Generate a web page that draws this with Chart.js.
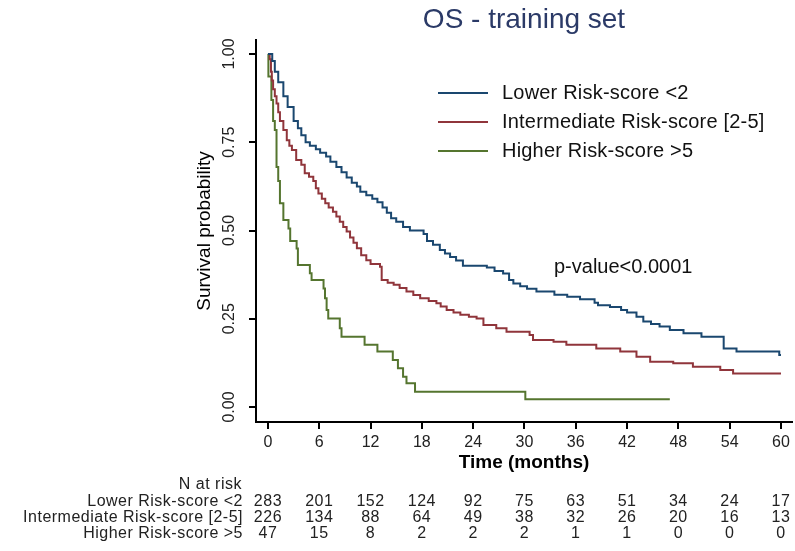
<!DOCTYPE html>
<html>
<head>
<meta charset="utf-8">
<script src="https://cdn.jsdelivr.net/npm/chart.js@4/dist/chart.umd.min.js"></script>
<style>
  html, body { margin: 0; padding: 0; background: #fff; }
  #wrap { width: 795px; height: 551px; position: relative; }
  canvas { display: block; }
</style>
</head>
<body>
<div id="wrap"><canvas id="km" width="795" height="551"></canvas></div>
<script>
// Kaplan-Meier step points: month at which survival drops, and the new survival value
const timeLower = [0, 0.5, 0.8, 1.2, 1.8, 2.3, 3.0, 3.5, 3.9, 4.4, 4.9, 5.6, 6.1, 6.8, 7.3, 8.0, 8.6, 9.2, 9.8, 10.4, 10.8, 11.5, 12.2, 12.8, 13.4, 13.9, 14.4, 15.0, 15.8, 16.6, 18.2, 18.6, 19.3, 20.1, 20.7, 21.3, 22.0, 22.8, 25.6, 26.5, 27.5, 28.2, 28.7, 29.5, 30.3, 31.4, 33.5, 35.0, 36.5, 38.2, 38.6, 40.0, 41.3, 42.0, 43.1, 43.9, 44.8, 45.8, 47.0, 48.6, 50.7, 53.3, 54.8, 59.8, 60];
const survLower = [1.0, 0.98, 0.95, 0.92, 0.88, 0.85, 0.81, 0.79, 0.77, 0.75, 0.74, 0.73, 0.72, 0.71, 0.695, 0.68, 0.665, 0.65, 0.635, 0.625, 0.61, 0.60, 0.59, 0.58, 0.565, 0.55, 0.535, 0.525, 0.51, 0.50, 0.49, 0.47, 0.46, 0.445, 0.435, 0.425, 0.415, 0.40, 0.395, 0.385, 0.378, 0.36, 0.35, 0.342, 0.335, 0.327, 0.318, 0.312, 0.305, 0.295, 0.288, 0.283, 0.275, 0.268, 0.256, 0.242, 0.235, 0.228, 0.218, 0.209, 0.199, 0.166, 0.157, 0.147, 0.147];

const timeInter = [0, 0.2, 0.35, 0.45, 0.6, 0.8, 1.0, 1.2, 1.4, 1.8, 2.2, 2.5, 2.8, 3.3, 3.9, 4.3, 4.8, 5.3, 5.6, 5.9, 6.3, 6.7, 7.1, 7.6, 8.0, 8.4, 8.8, 9.2, 9.6, 10.0, 10.4, 10.9, 11.5, 12.0, 13.1, 13.3, 14.0, 14.7, 15.4, 16.2, 17.0, 17.8, 18.8, 19.7, 20.2, 20.9, 21.7, 22.5, 23.5, 24.4, 25.2, 26.7, 27.9, 30.6, 31.0, 33.4, 34.9, 38.4, 41.2, 43.1, 44.7, 47.4, 49.7, 52.9, 54.4, 60];
const survInter = [1.0, 0.985, 0.95, 0.925, 0.90, 0.88, 0.86, 0.835, 0.81, 0.785, 0.756, 0.74, 0.728, 0.70, 0.686, 0.662, 0.652, 0.64, 0.62, 0.605, 0.59, 0.577, 0.565, 0.553, 0.54, 0.525, 0.51, 0.497, 0.48, 0.465, 0.45, 0.43, 0.416, 0.405, 0.397, 0.36, 0.352, 0.346, 0.337, 0.327, 0.317, 0.308, 0.30, 0.294, 0.285, 0.275, 0.268, 0.261, 0.256, 0.251, 0.232, 0.223, 0.213, 0.204, 0.19, 0.185, 0.176, 0.166, 0.157, 0.142, 0.128, 0.124, 0.114, 0.105, 0.095, 0.095];

const timeHigher = [0, 0.05, 0.4, 0.6, 0.8, 1.0, 1.2, 1.4, 1.8, 2.4, 2.6, 3.35, 3.5, 4.9, 5.1, 6.5, 6.67, 6.86, 7.05, 8.4, 8.6, 11.3, 12.8, 14.6, 15.2, 15.8, 16.2, 17.2, 30.1, 47.0];
const survHigher = [1.0, 0.936, 0.87, 0.81, 0.785, 0.68, 0.64, 0.577, 0.53, 0.506, 0.47, 0.449, 0.402, 0.379, 0.36, 0.336, 0.308, 0.275, 0.251, 0.223, 0.199, 0.176, 0.157, 0.133, 0.110, 0.086, 0.067, 0.043, 0.022, 0.022];

const groupLabels = ['Lower Risk-score <2', 'Intermediate Risk-score [2-5]', 'Higher Risk-score >5'];
const groupColors = ['#1a476f', '#90353b', '#55752f'];

// Axis ticks
const xTicks = [0, 6, 12, 18, 24, 30, 36, 42, 48, 54, 60];
const yTicks = [0, 0.25, 0.5, 0.75, 1];

// Number at risk at each x tick
const riskLower = [283, 201, 152, 124, 92, 75, 63, 51, 34, 24, 17];
const riskInter = [226, 134, 88, 64, 49, 38, 32, 26, 20, 16, 13];
const riskHigher = [47, 15, 8, 2, 2, 2, 1, 1, 0, 0, 0];

const FONT = "'Liberation Sans', Arial, Helvetica, sans-serif";

function toPoints(t, s) {
  return t.map((x, i) => ({ x: x, y: s[i] }));
}

const series = [
  toPoints(timeLower, survLower),
  toPoints(timeInter, survInter),
  toPoints(timeHigher, survHigher)
];
const riskRows = [riskLower, riskInter, riskHigher];

// Legend, p-value note and the number-at-risk table
const annotations = {
  id: 'kmAnnotations',
  afterDraw(chart) {
    const ctx = chart.ctx;
    const xs = chart.scales.x;
    ctx.save();

    // legend
    const legendY = [93, 122, 151];
    ctx.font = '20px ' + FONT;
    ctx.letterSpacing = '0.2px';
    ctx.textBaseline = 'middle';
    ctx.textAlign = 'left';
    chart.data.datasets.forEach((ds, i) => {
      ctx.strokeStyle = ds.borderColor;
      ctx.lineWidth = 2;
      ctx.beginPath();
      ctx.moveTo(438, legendY[i]);
      ctx.lineTo(488, legendY[i]);
      ctx.stroke();
      ctx.fillStyle = '#111';
      ctx.fillText(ds.label, 502, legendY[i]);
    });

    // p-value
    ctx.font = '20px ' + FONT;
    ctx.letterSpacing = '0px';
    ctx.fillStyle = '#111';
    ctx.fillText('p-value<0.0001', 554, 267);

    // number at risk
    ctx.font = '16px ' + FONT;
    ctx.letterSpacing = '0.5px';
    ctx.fillStyle = '#222';
    ctx.textAlign = 'right';
    ctx.fillText('N at risk', 242, 485);
    const rowY = [502, 518, 534];
    riskRows.forEach((row, r) => {
      ctx.textAlign = 'right';
      ctx.fillText(groupLabels[r], 243, rowY[r]);
      ctx.textAlign = 'center';
      row.forEach((n, i) => {
        ctx.fillText(String(n), xs.getPixelForValue(xTicks[i]), rowY[r]);
      });
    });
    ctx.restore();
  }
};

new Chart(document.getElementById('km'), {
  type: 'line',
  data: {
    datasets: series.map((pts, i) => ({
      label: groupLabels[i],
      data: pts,
      borderColor: groupColors[i],
      backgroundColor: groupColors[i],
      borderWidth: 2,
      pointRadius: 0,
      stepped: 'before',
      fill: false
    }))
  },
  options: {
    responsive: false,
    animation: false,
    devicePixelRatio: 1,
    layout: { padding: { left: 180, right: 3, top: 0, bottom: 76.6 } },
    plugins: {
      legend: { display: false },
      tooltip: { enabled: false },
      title: {
        display: true,
        text: 'OS - training set',
        fullSize: false,
        color: '#2b3a67',
        font: { family: FONT, size: 28, weight: 'normal' },
        padding: { top: 3.2, bottom: 3.2 }
      }
    },
    scales: {
      x: {
        type: 'linear',
        min: -1.4,
        max: 61.29,
        afterBuildTicks: (s) => { s.ticks = xTicks.map(v => ({ value: v })); },
        afterFit: (s) => { s.height = 52.4; },
        grid: { drawOnChartArea: false, drawTicks: true, tickLength: 7, color: '#000', lineWidth: 2 },
        border: { display: true, color: '#000', width: 2 },
        ticks: {
          autoSkip: false,
          maxRotation: 0,
          padding: 4,
          color: '#222',
          font: { family: FONT, size: 16 },
          callback: (v) => String(v)
        },
        title: {
          display: true,
          text: 'Time (months)',
          color: '#000',
          font: { family: FONT, size: 19, weight: 'bold' },
          padding: { top: 0, bottom: 0 }
        }
      },
      y: {
        type: 'linear',
        min: -0.0425,
        max: 1.0397,
        afterBuildTicks: (s) => { s.ticks = yTicks.map(v => ({ value: v })); },
        afterFit: (s) => { s.width = 76; },
        grid: { drawOnChartArea: false, drawTicks: true, tickLength: 7, color: '#000', lineWidth: 2 },
        border: { display: true, color: '#000', width: 2 },
        ticks: {
          autoSkip: false,
          minRotation: 90,
          maxRotation: 90,
          crossAlign: 'center',
          padding: 3.4,
          color: '#222',
          font: { family: FONT, size: 16 },
          callback: (v) => Number(v).toFixed(2)
        },
        title: {
          display: true,
          text: 'Survival probability',
          color: '#000',
          font: { family: FONT, size: 19, weight: 'normal' },
          padding: { top: 13.6, bottom: 0 }
        }
      }
    }
  },
  plugins: [annotations]
});
</script>
</body>
</html>
